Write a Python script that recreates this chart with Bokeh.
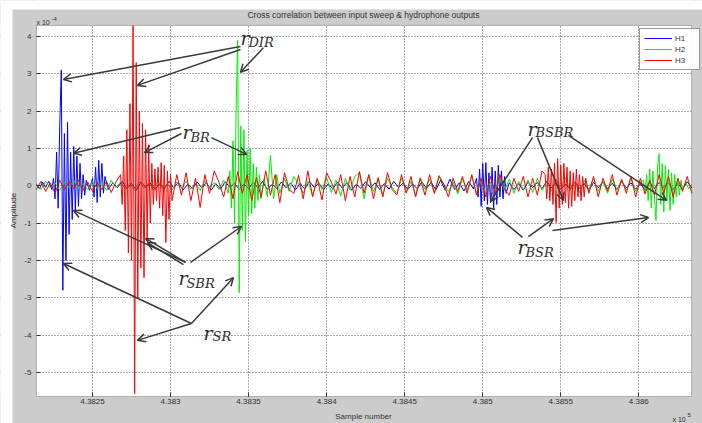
from bokeh.plotting import figure
from bokeh.models import Range1d, FixedTicker, Label, Arrow, OpenHead, BoxAnnotation
from bokeh.embed import file_html
from bokeh.resources import INLINE

# ---------------- data (amplitude in units of 1e-4, x in samples) ----------------
# each channel: list of (start_sample, sample_step, values)
H1_SEGMENTS = [
    (438214, 2, [0.05, -0.08, 0.1, -0.04, 0.12, -0.1]),
    (438225, 1, [0.2, -0.35, 0.9, -0.6, 1.6, 3.1, -2.8, 1.4, -2.0, 1.7, -1.3, 0.9, -0.9, 1.05,
                 -0.7, 0.8, -0.55, 0.6, -0.35, 0.3, -0.25]),
    (438246, 2, [0.15, -0.12, 0.2]),
    (438251, 1, [-0.3, 0.5, -0.45, 0.68, -0.3, 0.6, -0.2, 0.25]),
    (438260, 3, [-0.1, 0.08, -0.05, 0.12, -0.08, 0.06, -0.12, 0.1, -0.04, 0.07, -0.1, 0.05, -0.08, 0.12, -0.06, 0.09, -0.11, 0.04, -0.07, 0.1,
                 -0.05, 0.08, -0.12, 0.06, -0.09, 0.11, -0.04, 0.07, -0.1, 0.05, -0.08, 0.09, -0.06, 0.12, -0.1, 0.04, -0.07, 0.1, -0.05, 0.08,
                 -0.11, 0.06, -0.09, 0.12, -0.04, 0.07, -0.1, 0.05, -0.08, 0.1, -0.06, 0.09, -0.12, 0.04, -0.07, 0.11, -0.05, 0.08, -0.1, 0.06,
                 -0.09, 0.12, -0.04, 0.07, -0.1, 0.05, -0.08, 0.1, -0.06, 0.09, -0.11, 0.15, -0.12, 0.18, -0.1, 0.08, -0.14, 0.12, -0.08]),
    (438496, 1, [0.2, -0.3, 0.45, -0.55, 0.6, -0.4, 0.62, -0.5, 0.35, -0.45, 0.5, -0.61, 0.4, -0.5, 0.55, -0.3,
                 0.4, -0.35, 0.25, -0.2]),
    (438517, 3, [0.08, -0.1, 0.06, -0.12, 0.1, -0.05, 0.09, -0.08, 0.12, -0.06, 0.07, -0.1, 0.05, -0.09, 0.11, -0.07, 0.06, -0.12, 0.09, -0.05,
                 0.1, -0.08, 0.07, -0.1, 0.12, -0.06, 0.08, -0.09, 0.05, -0.11, 0.1, -0.07, 0.09, -0.05, 0.08, -0.1, 0.06, -0.09, 0.11, -0.06]),
]

H2_SEGMENTS = [
    (438214, 3, [0.05, -0.1, 0.12, -0.06, 0.08, -0.12, 0.1, -0.04, 0.14, -0.08, 0.06, -0.1, 0.12, -0.07, 0.09, -0.12, 0.15, -0.05, 0.1, -0.09,
                 0.07, -0.13, 0.11, -0.06, 0.08, -0.1, 0.13, -0.08, 0.06, -0.11, 0.1, -0.05, 0.12, -0.09, 0.07, -0.12, 0.14, -0.06, 0.09, -0.1,
                 0.15, -0.2]),
    (438338, 1, [0.4, -0.6, 1.2, -1.0, 2.0, 3.9, -2.86, 1.6, -1.2, 1.5, -1.5, 0.95, -0.8, 1.0, -0.75, 0.6,
                 -0.6, 0.5, -0.4, 0.3, -0.35]),
    (438360, 2, [0.2, -0.3, 0.81, -0.35, 0.3, -0.2]),
    (438373, 3, [0.2, -0.15, 0.25, 0.05, -0.2, 0.12, -0.25, 0.18, -0.1, 0.22, -0.18, 0.15, -0.28, 0.2, -0.12, 0.25, 0.35, -0.35, 0.3, -0.15,
                 0.18, -0.25, 0.2, -0.05, -0.2, 0.2, -0.18, 0.12, -0.25, 0.22, -0.1, 0.18, -0.2, 0.28, 0.05, -0.15, 0.1, -0.22, 0.2, -0.12,
                 0.25, -0.18, 0.15, -0.2, 0.1, -0.15, 0.2, -0.12, 0.18, -0.2, 0.12, -0.1, 0.15, -0.18, 0.2, -0.12, 0.1, -0.15, 0.18, -0.1,
                 0.22, -0.12, 0.1, -0.18, 0.15, -0.1, 0.2, -0.15, 0.12, -0.2, 0.18, -0.1, 0.15, -0.12, 0.2, -0.15, 0.1]),
    (438603, 1, [0.15, -0.2, 0.3, -0.4, 0.45, -0.6, 0.4, -0.3, -0.93, 0.5, 0.86, -0.5, 0.6, -0.7, 0.54, -0.4,
                 0.45, -0.66, 0.35, -0.5, 0.3, -0.3, 0.2, -0.25, 0.15, -0.1]),
    (438630, 2, [0.1, -0.08, 0.05]),
]

H3_SEGMENTS = [
    (438214, 3, [-0.1, 0.12, -0.15, 0.08, -0.2, 0.15, -0.1, 0.12, -0.08, 0.15, -0.12, 0.1, -0.15, 0.08, -0.1, 0.12, -0.18, 0.1]),
    (438268, 1, [0.3, -0.5, 0.8, -1.2, 1.5, -1.8, 2.2, -2.0, 4.29, -5.57, 3.3, -3.0, 2.0, -2.2, 1.67, -2.46,
                 1.5, -1.4, 1.1, -1.0, 0.6, -0.5, 0.45, -0.4, 0.5, -0.6, 0.62, -0.8, 0.55, -1.52, 0.4, -0.9, 0.3, -0.4]),
    (438304, 3, [0.3, -0.25, 0.35, -0.4, 0.2, -0.58, 0.3, -0.2, 0.4, 0.1, -0.3, 0.25, -0.35, 0.38, -0.2, 0.3, -0.4, 0.22, -0.3, 0.4,
                 -0.25, 0.3, -0.45, 0.35, -0.1, -0.2, 0.28, -0.35, 0.4, -0.3, 0.2, -0.38, 0.35, 0.1, -0.22, 0.3, -0.4, 0.25, -0.3, 0.38,
                 -0.2, 0.3, -0.35, 0.22, -0.3, 0.35, -0.1, -0.25, 0.3, -0.2, 0.25, -0.3, 0.2, -0.25, 0.3, -0.2, 0.25, 0.05, -0.3, 0.2,
                 -0.15, 0.25, -0.2, 0.3, -0.25, 0.2, -0.3, 0.25, -0.2, 0.3, -0.1, -0.25, 0.2, -0.15, 0.25, -0.3, 0.2, -0.25, 0.4]),
    (438540, 1, [0.3, -0.35, 0.5, -0.4, 0.45, -0.5, 0.6, -0.98, 0.73, -0.6, 0.55, -0.5, 0.6, -0.45, 0.5, -0.6,
                 0.4, -0.55, 0.35, -0.4, 0.45, -0.3, 0.3, -0.4, 0.25, -0.3, 0.2]),
    (438568, 3, [-0.2, 0.25, -0.3, 0.2, -0.15, 0.3, -0.25, 0.18, -0.2, 0.25, -0.3, 0.2, -0.22, 0.15, -0.25, 0.3, -0.2, 0.25, -0.3, 0.2,
                 -0.15, 0.25, -0.2]),
]

SERIES_NAMES = ["H1", "H2", "H3"]
SERIES_COLORS = ["#0000ff", "#00ee00", "#ff0000"]

X_TICKS = [438250, 438300, 438350, 438400, 438450, 438500, 438550, 438600]
X_TICK_LABELS = ["4.3825", "4.383", "4.3835", "4.384", "4.3845", "4.385", "4.3855", "4.386"]
Y_TICKS = [-5, -4, -3, -2, -1, 0, 1, 2, 3, 4]
Y_TICK_LABELS = ["-5", "-4", "-3", "-2", "-1", "0", "1", "2", "3", "4"]

# axes box (samples / amplitude)
X_MIN, X_MAX = 438214.1, 438633.8
Y_MIN, Y_MAX = -5.644, 4.295

# annotation arrows (start sample, start amp, end sample, end amp)
ARROWS = [
    (438344.8, 3.73, 438231.4, 2.85), (438344.8, 3.65, 438278.8, 2.69), (438359.5, 3.70, 438344.8, 3.04),
    (438306.4, 1.56, 438237.8, 0.87), (438307.0, 1.40, 438283.3, 0.89), (438326.2, 1.29, 438348.7, 0.84),
    (438309.6, -2.05, 438237.8, -0.66), (438309.6, -2.05, 438284.0, -1.41), (438308.3, -2.11, 438285.2, -1.52),
    (438312.8, -2.05, 438345.4, -1.09),
    (438313.4, -3.69, 438231.4, -2.08), (438313.4, -3.69, 438278.8, -4.14), (438313.4, -3.69, 438340.3, -2.46),
    (438531.9, 1.29, 438505.0, -0.42), (438535.1, 1.29, 438551.7, -0.39), (438554.9, 1.35, 438617.7, -0.39),
    (438525.5, -1.38, 438502.4, -0.58), (438529.3, -1.36, 438545.3, -0.88), (438544.7, -1.20, 438606.2, -0.85),
]
# (r position, subscript text, subscript position)
LABELS = [
    ((438344.8, 3.97), "DIR", (438349.9, 3.84)),
    ((438307.7, 1.43), "BR", (438312.8, 1.29)),
    ((438305.1, -2.48), "SBR", (438310.2, -2.62)),
    ((438321.1, -3.93), "SR", (438326.9, -4.04)),
    ((438528.7, 1.53), "BSBR", (438533.8, 1.43)),
    ((438522.3, -1.65), "BSR", (438527.4, -1.79)),
]


def build(segments):
    xs, ys = [], []
    for start, step, vals in segments:
        for i, v in enumerate(vals):
            xs.append(start + i * step)
            ys.append(v)
    return xs, ys


# the frame covers the whole canvas; the axes box is drawn inside it
p = figure(width=702, height=423, output_backend="svg", toolbar_location=None,
           x_range=Range1d(438191.06, 438640.80), y_range=Range1d(-6.3675, 4.9638),
           min_border_left=0, min_border_right=0, min_border_top=0, min_border_bottom=0,
           background_fill_color="white", outline_line_color=None)

# figure-window grey around the axes box, white page strip top/left
GREY = "#cccccc"
for kw in (dict(bottom=Y_MAX), dict(top=Y_MIN), dict(right=X_MIN), dict(left=X_MAX)):
    p.add_layout(BoxAnnotation(fill_color=GREY, fill_alpha=1, line_color=None, level="underlay", **kw))
p.add_layout(BoxAnnotation(right=438198.75, fill_color="white", fill_alpha=1, line_color=None, level="underlay"))
p.add_layout(BoxAnnotation(bottom=4.7228, fill_color="white", fill_alpha=1, line_color=None, level="underlay"))

for segs, name, col in zip([H1_SEGMENTS, H2_SEGMENTS, H3_SEGMENTS], SERIES_NAMES, SERIES_COLORS):
    xs, ys = build(segs)
    p.line(xs, ys, line_color=col, line_width=1, legend_label=name)

# axes
p.xaxis.ticker = FixedTicker(ticks=X_TICKS)
p.xaxis.major_label_overrides = {t: l for t, l in zip(X_TICKS, X_TICK_LABELS)}
p.yaxis.ticker = FixedTicker(ticks=Y_TICKS)
p.yaxis.major_label_overrides = {t: l for t, l in zip(Y_TICKS, Y_TICK_LABELS)}
p.xaxis.fixed_location = Y_MIN
p.yaxis.fixed_location = X_MIN
for ax in (p.xaxis, p.yaxis):
    ax.axis_line_color = None
    ax.major_tick_in = 4
    ax.major_tick_out = 0
    ax.major_tick_line_color = "#333333"
    ax.minor_tick_line_color = None
    ax.major_label_text_font = "Liberation Sans"
    ax.major_label_text_font_size = "8px"
    ax.major_label_text_color = "#333333"
p.xaxis.major_label_standoff = 3
p.yaxis.major_label_standoff = 5

p.grid.grid_line_color = "#444444"
p.grid.grid_line_dash = "1 2"
p.grid.grid_line_width = 1
p.grid.grid_line_alpha = 0.9

# axes box outline
p.add_layout(BoxAnnotation(left=X_MIN, right=X_MAX, bottom=Y_MIN, top=Y_MAX, fill_alpha=0,
                           line_color="#333333", line_width=1))

# legend
lg = p.legend[0]
lg.location = (639, 353)
lg.padding = 4
lg.spacing = 1
lg.glyph_width = 28
lg.glyph_height = 10
lg.label_height = 10
lg.label_standoff = 3
lg.label_text_font = "Liberation Sans"
lg.label_text_font_size = "8px"
lg.label_text_color = "#333333"
lg.border_line_color = "#333333"
lg.border_line_width = 1
lg.background_fill_color = "white"


def txt(x, y, t, size="8px", align="center", baseline="middle", angle=0.0):
    p.add_layout(Label(x=x, y=y, text=t, text_font="Liberation Sans", text_font_size=size,
                       text_color="#333333", text_align=align, text_baseline=baseline, angle=angle))


txt(438423.6, 4.562, "Cross correlation between input sweep & hydrophone outputs", size="8.5px")
txt(438199.4, -0.664, "Amplitude", angle=1.5708)
txt(438423.6, -6.180, "Sample number")
txt(438214.1, 4.374, "x 10", size="7px", align="left", baseline="alphabetic")
txt(438223.7, 4.481, "-4", size="6px", align="left", baseline="alphabetic")
txt(438621.6, -6.255, "x 10", size="7px", align="left", baseline="alphabetic")
txt(438631.2, -6.13, "5", size="6px", align="left", baseline="alphabetic")

# arrows
for xs0, ys0, xe, ye in ARROWS:
    p.add_layout(Arrow(x_start=xs0, y_start=ys0, x_end=xe, y_end=ye,
                       line_color="#3a3a3a", line_width=1.5,
                       end=OpenHead(size=8, line_color="#3a3a3a", line_width=1.5)))

# labels r_xxx
for (rx, ry), sub, (sxp, syp) in LABELS:
    p.add_layout(Label(x=rx, y=ry, text="r", text_font="DejaVu Serif", text_font_style="italic",
                       text_font_size="19px", text_color="#2e2e2e", text_align="left", text_baseline="alphabetic"))
    p.add_layout(Label(x=sxp, y=syp, text=sub, text_font="DejaVu Serif", text_font_style="italic",
                       text_font_size="13px", text_color="#2e2e2e", text_align="left", text_baseline="alphabetic"))

open("out.html", "w").write(file_html(p, INLINE))
